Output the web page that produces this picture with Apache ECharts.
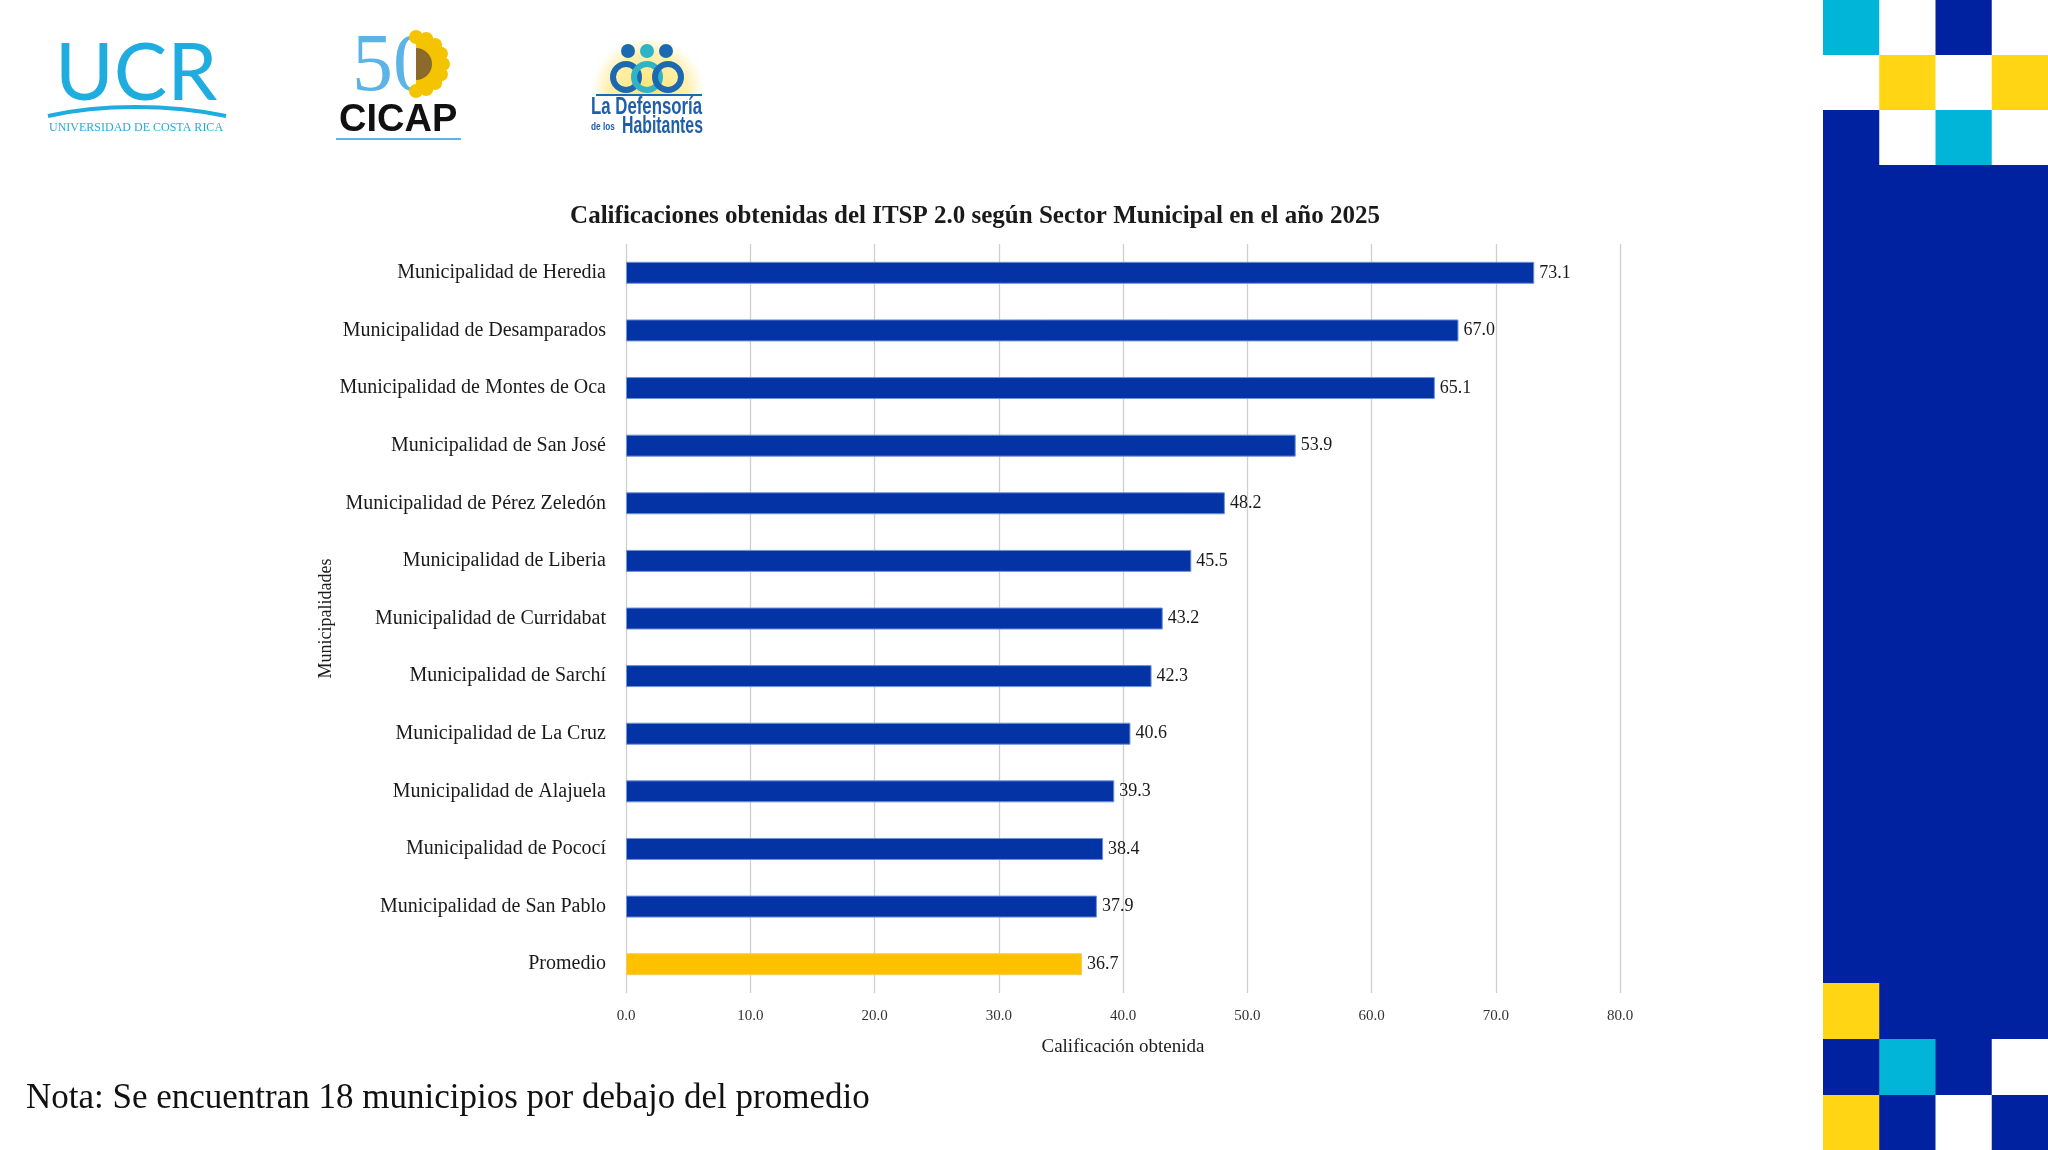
<!DOCTYPE html>
<html>
<head>
<meta charset="utf-8">
<title>ITSP 2.0 - Sector Municipal 2025</title>
<script src="https://cdn.jsdelivr.net/npm/echarts@6/dist/echarts.min.js"></script>
<style>
  html, body { margin: 0; padding: 0; background: #ffffff; }
  #chart { width: 2048px; height: 1150px; }
</style>
</head>
<body>
<div id="chart"></div>
<script>
// datos
var municipios = [
  'Municipalidad de Heredia',
  'Municipalidad de Desamparados',
  'Municipalidad de Montes de Oca',
  'Municipalidad de San José',
  'Municipalidad de Pérez Zeledón',
  'Municipalidad de Liberia',
  'Municipalidad de Curridabat',
  'Municipalidad de Sarchí',
  'Municipalidad de La Cruz',
  'Municipalidad de Alajuela',
  'Municipalidad de Pococí',
  'Municipalidad de San Pablo',
  'Promedio'
];
var calificaciones = [73.1, 67.0, 65.1, 53.9, 48.2, 45.5, 43.2, 42.3, 40.6, 39.3, 38.4, 37.9, 36.7];
var ejeMin = 0;
var ejeMax = 80;
var ejePaso = 10;

var serif = '"Liberation Serif", "DejaVu Serif", serif';
var azul = '#0433a6';
var amarillo = '#ffc000';

var seriesData = [];
for (var i = 0; i < calificaciones.length; i++) {
  var esPromedio = municipios[i] == 'Promedio';
  seriesData.push({
    value: calificaciones[i],
    itemStyle: {
      color: esPromedio ? amarillo : azul,
      borderColor: esPromedio ? '#f3cf5a' : '#6f93d8',
      borderWidth: 1
    }
  });
}

// bloques decorativos del lado derecho (col, fila, color)
var navy = '#0022a0', cyan = '#00b5d8', yellow = '#ffd514';
var cell = 56.25, panelX = 1823;
var topCells = [
  [0, 0, cyan], [2, 0, navy],
  [1, 1, yellow], [3, 1, yellow],
  [0, 2, navy], [2, 2, cyan]
];
// solo las celdas que no son azul oscuro, el fondo ya lo es
var bottomCells = [
  [0, 0, yellow],
  [1, 1, cyan], [3, 1, '#ffffff'],
  [0, 2, yellow], [2, 2, '#ffffff']
];
var decor = [];
topCells.forEach(function (c) {
  decor.push({ type: 'rect', shape: { x: panelX + c[0] * cell, y: c[1] * 55, width: cell, height: 55 }, style: { fill: c[2] } });
});
decor.push({ type: 'rect', shape: { x: panelX, y: 165, width: 225, height: 985 }, style: { fill: navy } });
bottomCells.forEach(function (c) {
  decor.push({ type: 'rect', shape: { x: panelX + c[0] * cell, y: 983 + c[1] * 56, width: cell, height: 56 }, style: { fill: c[2] } });
});

// logos aproximados
var ucrColor = '#1fade0';
var sunflower = [];
for (var a = -90; a <= 90; a += 22.5) {
  var rad = a * Math.PI / 180;
  sunflower.push({ type: 'circle', shape: { cx: 416 + 27 * Math.cos(rad), cy: 64 + 27 * Math.sin(rad), r: 7 }, style: { fill: '#f5c400' } });
}
var narrow = '"Liberation Sans Narrow", "Liberation Sans", sans-serif';
var logos = [
  { type: 'text', left: 55, top: 34, style: { text: 'UCR', font: 'normal 80px Lato, sans-serif', fill: ucrColor } },
  { type: 'bezierCurve', shape: { x1: 48, y1: 116, x2: 226, y2: 116, cpx1: 100, cpy1: 104, cpx2: 170, cpy2: 104 }, style: { stroke: ucrColor, lineWidth: 4, fill: null } },
  { type: 'text', left: 49, top: 122, style: { text: 'UNIVERSIDAD DE COSTA RICA', font: 'normal 12px ' + serif, fill: ucrColor } },

  { type: 'text', left: 352, top: 27, style: { text: '50', font: 'normal 82px ' + serif, fill: '#5cb3e6' } },
  { type: 'sector', shape: { cx: 416, cy: 64, r0: 0, r: 28, startAngle: -Math.PI / 2, endAngle: Math.PI / 2 }, style: { fill: '#f5c400' } }
].concat(sunflower).concat([
  { type: 'sector', shape: { cx: 416, cy: 64, r0: 0, r: 16, startAngle: -Math.PI / 2, endAngle: Math.PI / 2 }, style: { fill: '#8c6a2c' } },
  { type: 'text', left: 339, top: 102, style: { text: 'CICAP', font: 'bold 38px "Liberation Sans", sans-serif', fill: '#111111' } },
  { type: 'line', shape: { x1: 336, y1: 139, x2: 461, y2: 139 }, style: { stroke: '#5cb3e6', lineWidth: 2 } },

  { type: 'sector', shape: { cx: 648, cy: 94, r0: 0, r: 57, startAngle: Math.PI, endAngle: 2 * Math.PI },
    style: { fill: new echarts.graphic.RadialGradient(0.5, 1, 1, [{ offset: 0, color: '#ffe36a' }, { offset: 0.7, color: '#fff0b0' }, { offset: 1, color: '#ffffff' }]) } },
  { type: 'circle', shape: { cx: 628, cy: 51, r: 7 }, style: { fill: '#1b69b0' } },
  { type: 'circle', shape: { cx: 647, cy: 51, r: 7 }, style: { fill: '#2fb3c6' } },
  { type: 'circle', shape: { cx: 666, cy: 51, r: 7 }, style: { fill: '#1b69b0' } },
  { type: 'circle', shape: { cx: 626, cy: 77, r: 13 }, style: { fill: null, stroke: '#1b69b0', lineWidth: 6 } },
  { type: 'circle', shape: { cx: 647, cy: 77, r: 13 }, style: { fill: null, stroke: '#2fb3c6', lineWidth: 6 } },
  { type: 'circle', shape: { cx: 668, cy: 77, r: 13 }, style: { fill: null, stroke: '#1b69b0', lineWidth: 6 } },
  { type: 'line', shape: { x1: 596, y1: 95, x2: 702, y2: 95 }, style: { stroke: '#1b69b0', lineWidth: 2 } },
  { type: 'text', x: 591, y: 95, scaleX: 0.7, style: { text: 'La Defensoría', font: 'bold 24px ' + narrow, fill: '#1f5fa8' } },
  { type: 'text', x: 591, y: 121, scaleX: 0.75, style: { text: 'de los', font: 'bold 11px ' + narrow, fill: '#1f5fa8' } },
  { type: 'text', x: 622, y: 114, scaleX: 0.66, style: { text: 'Habitantes', font: 'bold 24px ' + narrow, fill: '#1f5fa8' } },

  { type: 'text', left: 26, top: 1081, style: { text: 'Nota: Se encuentran 18 municipios por debajo del promedio', font: 'normal 35px ' + serif, fill: '#111111' } }
]);

var theChart = echarts.init(document.getElementById('chart'));

var option = {
  backgroundColor: '#ffffff',
  animation: false,
  title: {
    text: 'Calificaciones obtenidas del ITSP 2.0 según Sector Municipal en el año 2025',
    left: 970,
    textAlign: 'center',
    top: 199,
    textStyle: { fontFamily: serif, fontWeight: 'bold', fontSize: 25, color: '#1a1a1a' }
  },
  grid: { left: 626, right: 428, top: 244, bottom: 157 },
  xAxis: {
    type: 'value',
    min: ejeMin,
    max: ejeMax,
    interval: ejePaso,
    name: 'Calificación obtenida',
    nameLocation: 'middle',
    nameGap: 45,
    nameTextStyle: { fontFamily: serif, fontSize: 19, color: '#1a1a1a' },
    axisLine: { show: false },
    axisTick: { show: false },
    axisLabel: {
      margin: 16,
      fontFamily: serif,
      fontSize: 15,
      color: '#333333',
      formatter: function (v) { return v.toFixed(1); }
    },
    splitLine: { show: true, lineStyle: { color: '#cfcfcf', width: 1.3 } }
  },
  yAxis: {
    type: 'category',
    inverse: true,
    data: municipios,
    name: 'Municipalidades',
    nameLocation: 'middle',
    nameRotate: 90,
    nameGap: 290,
    nameTextStyle: { fontFamily: serif, fontSize: 18, color: '#1a1a1a' },
    axisLine: { show: false },
    axisTick: { show: false },
    axisLabel: { margin: 20, fontFamily: serif, fontSize: 20, color: '#1a1a1a' }
  },
  series: [{
    type: 'bar',
    data: seriesData,
    barWidth: 22,
    label: {
      show: true,
      position: 'right',
      distance: 5,
      fontFamily: serif,
      fontSize: 18,
      color: '#1a1a1a',
      formatter: function (p) { return p.value.toFixed(1); }
    }
  }],
  graphic: decor.concat(logos)
};

theChart.setOption(option);
</script>
</body>
</html>
